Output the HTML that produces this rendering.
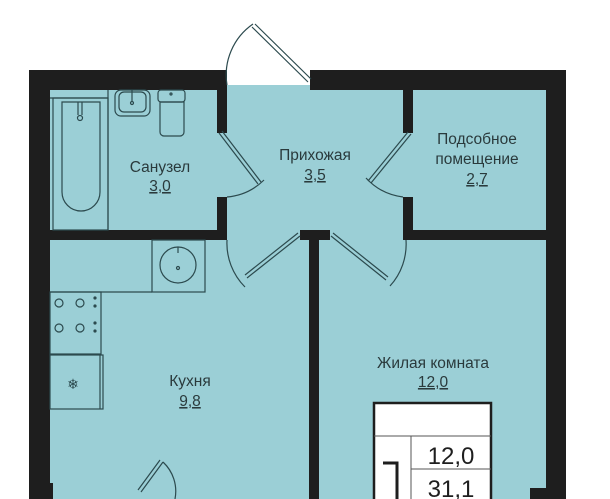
<!DOCTYPE html>
<html><head><meta charset="utf-8"><style>
html,body{margin:0;padding:0;background:#fff;}
svg{display:block;font-family:"Liberation Sans","DejaVu Sans",sans-serif;}
</style></head><body>
<svg width="610" height="499" viewBox="0 0 610 499" xmlns="http://www.w3.org/2000/svg">
<rect x="0" y="0" width="610" height="499" fill="#fff"/>
<rect x="50" y="90" width="496" height="409" fill="#9bcfd6"/>
<rect x="227" y="85" width="83" height="10" fill="#9bcfd6"/>
<g fill="#1e1e1e">
<rect x="29" y="70" width="198" height="20"/>
<rect x="310" y="70" width="256" height="20"/>
<rect x="29" y="70" width="21" height="429"/>
<rect x="546" y="70" width="20" height="429"/>
<rect x="29" y="483" width="24" height="16"/>
<rect x="530" y="488" width="36" height="11"/>
<rect x="217" y="90" width="10" height="43"/>
<rect x="217" y="197" width="10" height="43"/>
<rect x="50" y="230" width="177" height="10"/>
<rect x="403" y="90" width="10" height="43"/>
<rect x="403" y="197" width="10" height="43"/>
<rect x="403" y="230" width="143" height="10"/>
<rect x="300" y="230" width="30" height="10"/>
<rect x="309" y="230" width="10" height="269"/>
</g>
<g fill="none" stroke="#2c4a4e" stroke-width="1.2">
<rect x="53" y="98" width="55" height="132"/>
<path d="M62 102 h38 v90 a19 19 0 0 1 -38 0 z"/>
<line x1="78" y1="102" x2="78" y2="115"/><line x1="82" y1="102" x2="82" y2="115"/>
<circle cx="80" cy="118" r="2.5"/>
<line x1="108" y1="90" x2="108" y2="230"/>
<line x1="50" y1="98" x2="108" y2="98"/>
<rect x="115" y="90" width="35" height="26" rx="6"/>
<rect x="119" y="92" width="27" height="20" rx="5"/>
<line x1="132" y1="90" x2="132" y2="101"/><circle cx="132" cy="103" r="1.5"/>
<rect x="158" y="90" width="27" height="12" rx="3"/>
<path d="M160 102 h24 l0 30 a4 4 0 0 1 -4 4 h-16 a4 4 0 0 1 -4 -4 z"/>
<circle cx="171" cy="94" r="1"/>
<rect x="152" y="240" width="53" height="52"/>
<circle cx="178" cy="265" r="18"/><circle cx="178" cy="268" r="1.5"/>
<line x1="178" y1="247" x2="178" y2="253"/>
<line x1="50" y1="292" x2="152" y2="292"/>
<rect x="50" y="292" width="51" height="62"/>
<circle cx="59" cy="303" r="4"/><circle cx="80" cy="303" r="4"/>
<circle cx="59" cy="328" r="4"/><circle cx="80" cy="328" r="4"/>
<rect x="50" y="355" width="53" height="54"/>
<line x1="100" y1="355" x2="100" y2="409"/>
<path d="M252 27 L308 82 M255 24 L311 79"/>
<path d="M253 24 A62 62 0 0 0 227 85"/>
<path d="M219 133 L258 184 M222 131 L261 182"/>
<path d="M264 180 A60 60 0 0 1 227 197"/>
<path d="M411 134 L371 183 M408 132 L368 181"/>
<path d="M366 178 A60 60 0 0 0 403 197"/>
<path d="M298 233 L245 275 M300 236 L247 278"/>
<path d="M245 287 A62 62 0 0 1 227 240"/>
<path d="M333 233 L388 277 M331 236 L386 280"/>
<path d="M390 286 A62 62 0 0 0 406 240"/>
<path d="M160 460 L138 490 M163 462 L141 492"/>
<path d="M163 462 A40 40 0 0 1 175 499"/>
</g>
<g fill="#2c4a4e"><circle cx="95" cy="298" r="1.6"/><circle cx="95" cy="306" r="1.6"/><circle cx="95" cy="323" r="1.6"/><circle cx="95" cy="331" r="1.6"/></g>
<text x="73" y="389" font-size="14" fill="#2c4a4e" text-anchor="middle">❄</text>
<g fill="#2a3a3c" font-size="15.5" text-anchor="middle">
<text x="160" y="172">Санузел</text>
<text x="160" y="191" text-decoration="underline">3,0</text>
<text x="315" y="160">Прихожая</text>
<text x="315" y="180" text-decoration="underline">3,5</text>
<text x="477" y="144">Подсобное</text>
<text x="477" y="164">помещение</text>
<text x="477" y="184" text-decoration="underline">2,7</text>
<text x="190" y="386">Кухня</text>
<text x="190" y="406" text-decoration="underline">9,8</text>
<text x="433" y="368">Жилая комната</text>
<text x="433" y="387" text-decoration="underline">12,0</text>
</g>
<rect x="374" y="403" width="117" height="100" fill="#fff" stroke="#1e1e1e" stroke-width="2.5"/>
<line x1="374" y1="436" x2="491" y2="436" stroke="#555" stroke-width="1"/>
<line x1="411" y1="436" x2="411" y2="499" stroke="#555" stroke-width="1"/>
<line x1="411" y1="469" x2="491" y2="469" stroke="#555" stroke-width="1"/>
<g fill="#1e1e1e" text-anchor="middle">
<text x="451" y="464" font-size="24">12,0</text>
<text x="451" y="497" font-size="24">31,1</text>
</g>
<path d="M383 463 H397 V499" fill="none" stroke="#1e1e1e" stroke-width="3"/>
</svg>
</body></html>
